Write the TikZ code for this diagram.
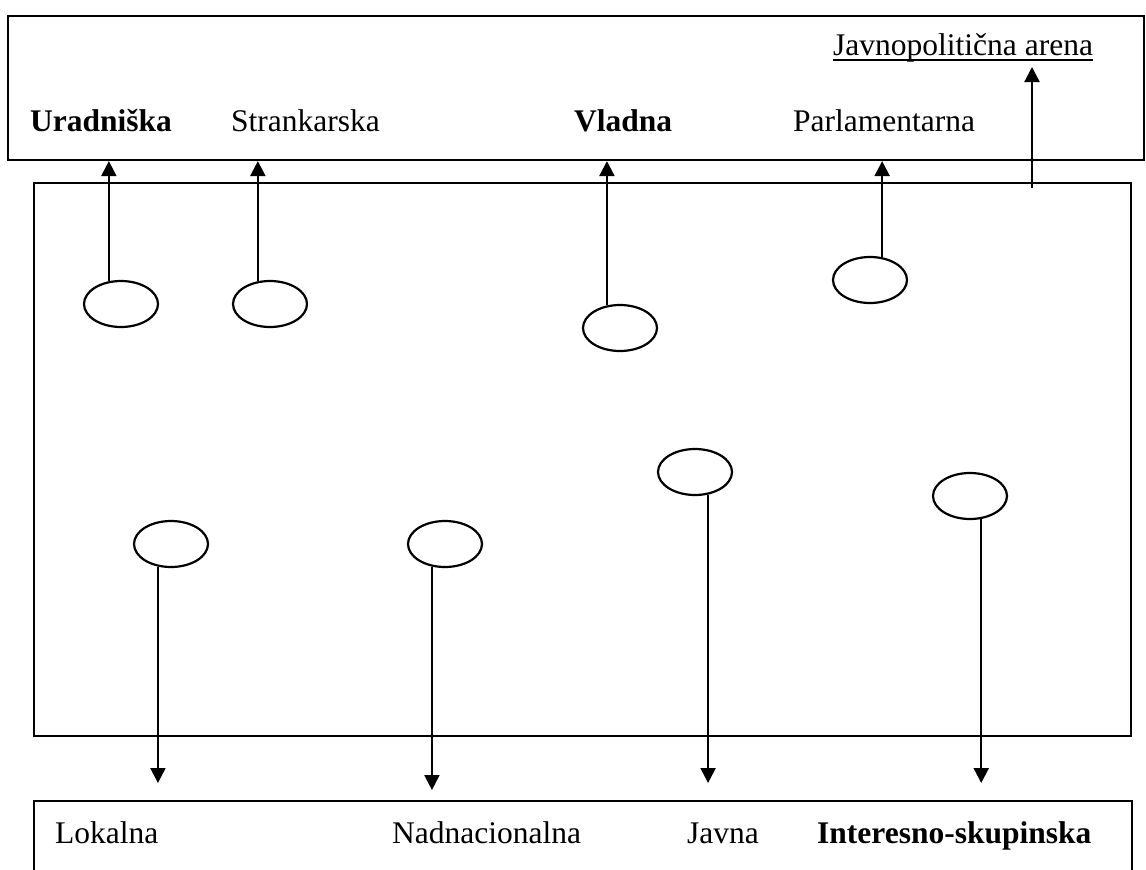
\documentclass[tikz,border=0pt]{standalone}
\usepackage{fontspec}
\setmainfont{Liberation Serif}
\usetikzlibrary{arrows.meta,shapes.geometric}

\tikzset{
  okvir/.style={draw,line width=2.2pt,inner sep=0pt},
  krog/.style={draw,ellipse,line width=2.2pt,minimum width=74pt,minimum height=46pt,inner sep=0pt},
  oznaka/.style={anchor=base west,inner sep=0pt,font=\fontsize{31.5}{36}\selectfont},
  puscica/.style={line width=2.2pt,-{Triangle[width=15pt,length=15pt]}}
}

\begin{document}
\begin{tikzpicture}[x=1pt,y=-1pt]
\clip (0,0) rectangle (1146,870);
% okvirji
\node[okvir,minimum width=1136pt,minimum height=144pt] (zgoraj) at (576,88) {};
\node[okvir,minimum width=1097pt,minimum height=553pt] (sredina) at (582.5,459.5) {};
\node[okvir,minimum width=1098pt,minimum height=120pt] (spodaj) at (583,861) {};

% arene
\node[oznaka] (tur) at (30,131) {\bfseries Uradniška};
\node[oznaka] (tst) at (231,131) {Strankarska};
\node[oznaka] (tvl) at (574,131) {\bfseries Vladna};
\node[oznaka] (tpa) at (793,131) {Parlamentarna};
\node[oznaka] (tar) at (833,55) {Javnopolitična arena};
\draw[line width=1.6pt] ([yshift=-5pt]tar.base west) -- ([yshift=-5pt]tar.base east);
\node[oznaka] (tlo) at (55,843) {Lokalna};
\node[oznaka] (tna) at (392,843) {Nadnacionalna};
\node[oznaka] (tja) at (687,843) {Javna};
\node[oznaka] (tis) at (817,843) {\bfseries Interesno-skupinska};

% akterji
\node[krog] (ur) at (121,304) {};
\node[krog] (st) at (270,304) {};
\node[krog] (vl) at (620,328) {};
\node[krog] (pa) at (870,280) {};
\node[krog] (lo) at (171,544) {};
\node[krog] (na) at (445,544) {};
\node[krog] (ja) at (695,472) {};
\node[krog] (is) at (970,496) {};

\coordinate (jp) at (1032,188);
\coordinate (jpvrh) at (1032,67);
\coordinate (konec) at (0,783);
\coordinate (konecna) at (0,790);

\draw[puscica] (ur.118) -- (ur.118 |- zgoraj.south);
\draw[puscica] (st.118) -- (st.118 |- zgoraj.south);
\draw[puscica] (vl.120) -- (vl.120 |- zgoraj.south);
\draw[puscica] (pa.62) -- (pa.62 |- zgoraj.south);
\draw[puscica] (jp) -- (jpvrh);
\draw[puscica] (lo.-120) -- (lo.-120 |- konec);
\draw[puscica] (na.-120) -- (na.-120 |- konecna);
\draw[puscica] (ja.-60) -- (ja.-60 |- konec);
\draw[puscica] (is.-64) -- (is.-64 |- konec);
\end{tikzpicture}
\end{document}
